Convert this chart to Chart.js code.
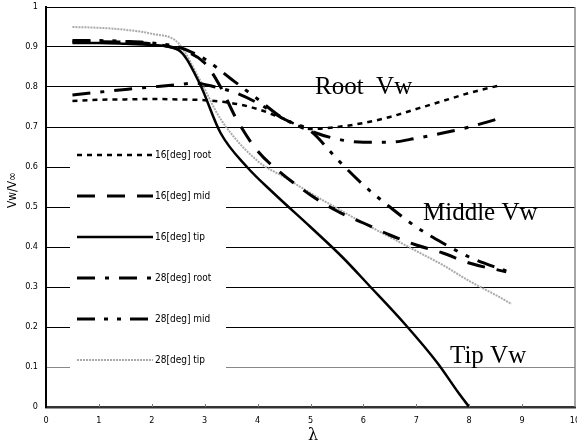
<!DOCTYPE html>
<html>
<head>
<meta charset="utf-8">
<script src="https://cdn.jsdelivr.net/npm/chart.js@4"></script>
<style>
  body { margin: 0; background: #fff; }
  #wrap { width: 577px; height: 443px; }
</style>
</head>
<body>
<div id="wrap"><canvas id="chart"></canvas></div>
<script>
// tip speed ratio (x) and Vw/Vinf (y) for each blade station
const lam16Root = [0.5, 1, 1.5, 2, 2.5, 3, 3.5, 4, 4.5, 5, 5.5, 6, 6.5, 7, 7.5, 8, 8.6];
const vw16Root = [0.765, 0.768, 0.769, 0.77, 0.769, 0.767, 0.76, 0.745, 0.72, 0.695, 0.70, 0.71, 0.725, 0.745, 0.765, 0.785, 0.805];

const lam16Mid = [0.5, 1, 1.5, 2, 2.5, 3, 3.3, 3.6, 4, 4.4, 5, 5.5, 6, 6.5, 7, 7.5, 8, 8.7];
const vw16Mid = [0.913, 0.913, 0.912, 0.908, 0.895, 0.86, 0.80, 0.72, 0.64, 0.59, 0.53, 0.49, 0.46, 0.43, 0.405, 0.385, 0.36, 0.338];

const lam16Tip = [0.5, 1, 1.5, 2, 2.5, 2.9, 3.3, 3.8, 4.3, 5, 5.6, 6.1, 6.8, 7.4, 7.8, 8];
const vw16Tip = [0.91, 0.91, 0.908, 0.905, 0.893, 0.81, 0.685, 0.6, 0.535, 0.45, 0.375, 0.305, 0.205, 0.11, 0.035, 0];

const lam28Root = [0.5, 1, 1.5, 2, 2.5, 2.8, 3.2, 3.6, 4, 4.5, 5, 5.5, 6, 6.5, 7, 7.5, 8, 8.6];
const vw28Root = [0.78, 0.787, 0.794, 0.80, 0.806, 0.81, 0.80, 0.785, 0.76, 0.72, 0.69, 0.67, 0.662, 0.662, 0.672, 0.685, 0.70, 0.7225];

const lam28Mid = [0.5, 1, 1.5, 2, 2.5, 3, 3.5, 4, 4.5, 5, 5.5, 6, 6.5, 7, 7.5, 8, 8.7];
const vw28Mid = [0.916, 0.916, 0.914, 0.91, 0.9, 0.87, 0.82, 0.77, 0.72, 0.69, 0.62, 0.555, 0.5, 0.45, 0.41, 0.375, 0.34];

const lam28Tip = [0.5, 1, 1.5, 2, 2.5, 2.9, 3.3, 4, 4.5, 5, 5.5, 6, 6.5, 7, 7.5, 8, 8.5, 8.8];
const vw28Tip = [0.95, 0.948, 0.943, 0.933, 0.91, 0.82, 0.72, 0.615, 0.575, 0.535, 0.497, 0.46, 0.425, 0.39, 0.355, 0.315, 0.28, 0.2575];

const xTicks = [0, 1, 2, 3, 4, 5, 6, 7, 8, 9, 10];

const pts = (xs, ys) => xs.map((x, i) => ({ x: x, y: ys[i] }));

const tickFont = { family: "'Liberation Sans Narrow', 'DejaVu Sans Condensed', sans-serif", size: 9 };

function series(label, xs, ys, color, width, dash) {
  return {
    label: label,
    data: pts(xs, ys),
    borderColor: color,
    borderWidth: width,
    borderDash: dash,
    pointRadius: 0,
    fill: false,
    cubicInterpolationMode: 'monotone'
  };
}

// legend box, annotations, axis titles
const extras = {
  id: 'extras',
  beforeDatasetsDraw(chart) {
    const ctx = chart.ctx;
    ctx.save();
    ctx.fillStyle = '#fff';
    ctx.fillRect(70, 135, 156, 242);
    ctx.restore();
  },
  afterDraw(chart) {
    const ctx = chart.ctx;
    const area = chart.chartArea;
    const xs = chart.scales.x;
    ctx.save();
    // right border
    ctx.strokeStyle = '#888';
    ctx.lineWidth = 1.5;
    ctx.beginPath();
    ctx.moveTo(area.right, area.top);
    ctx.lineTo(area.right, area.bottom);
    ctx.stroke();
    // small tick marks on x axis
    ctx.strokeStyle = '#777';
    ctx.lineWidth = 1;
    xTicks.slice(1, -1).forEach(v => {
      const px = Math.round(xs.getPixelForValue(v)) + 0.5;
      ctx.beginPath();
      ctx.moveTo(px, area.bottom - 3);
      ctx.lineTo(px, area.bottom);
      ctx.stroke();
    });
    // legend entries
    ctx.font = "10px 'DejaVu Sans Condensed', sans-serif";
    ctx.textBaseline = 'middle';
    chart.data.datasets.forEach((ds, i) => {
      const y = 155 + i * 41;
      ctx.strokeStyle = ds.borderColor;
      ctx.lineWidth = ds.borderWidth;
      ctx.setLineDash(ds.borderDash || []);
      ctx.beginPath();
      ctx.moveTo(77, y);
      ctx.lineTo(153, y);
      ctx.stroke();
      ctx.setLineDash([]);
      ctx.fillStyle = '#000';
      ctx.fillText(ds.label, 155, y);
    });
    // annotations
    ctx.font = "25px 'Liberation Serif', serif";
    ctx.textBaseline = 'alphabetic';
    ctx.fillText('Root  Vw', 315, 94);
    ctx.fillText('Middle Vw', 423, 220);
    ctx.fillText('Tip Vw', 450, 363);
    // axis titles
    ctx.font = "16px 'DejaVu Serif', serif";
    ctx.textAlign = 'center';
    ctx.fillText('\u03bb', 313, 440);
    ctx.translate(13, 190);
    ctx.rotate(-Math.PI / 2);
    ctx.font = "12px 'DejaVu Sans Condensed', sans-serif";
    ctx.textBaseline = 'middle';
    ctx.fillText('Vw/V\u221e', 0, 0);
    ctx.restore();
  }
};

new Chart(document.getElementById('chart'), {
  type: 'line',
  data: {
    datasets: [
      series('16[deg] root', lam16Root, vw16Root, '#000', 2.5, [5, 5]),
      series('16[deg] mid', lam16Mid, vw16Mid, '#000', 3, [18, 12]),
      series('16[deg] tip', lam16Tip, vw16Tip, '#000', 2.5, []),
      series('28[deg] root', lam28Root, vw28Root, '#000', 3, [18, 10, 4, 10]),
      series('28[deg] mid', lam28Mid, vw28Mid, '#000', 3, [18, 9, 4, 9, 4, 9]),
      series('28[deg] tip', lam28Tip, vw28Tip, '#aaa', 2, [2, 1])
    ]
  },
  options: {
    responsive: true,
    maintainAspectRatio: false,
    animation: false,
    layout: { padding: { top: 7, right: 2, left: 0, bottom: 0 } },
    plugins: {
      legend: { display: false },
      tooltip: { enabled: false }
    },
    scales: {
      x: {
        type: 'linear',
        min: 0,
        max: 10,
        afterBuildTicks: (scale) => { scale.ticks = xTicks.map(v => ({ value: v })); },
        afterFit: (scale) => { scale.height = 36; scale.paddingLeft = 0; scale.paddingRight = 0; },
        grid: { display: false, drawTicks: false },
        border: { color: '#333', width: 2.5 },
        ticks: { color: '#000', font: tickFont, padding: 8, maxRotation: 0, callback: (v) => String(v) }
      },
      y: {
        min: 0,
        max: 1,
        afterFit: (scale) => { scale.width = 46; scale.paddingTop = 0; scale.paddingBottom = 0; },
        grid: {
          drawTicks: false,
          color: (c) => {
            const v = c.tick.value;
            if (Math.abs(v) < 1e-6) return 'rgba(0,0,0,0)';
            if (Math.abs(v - 0.1) < 1e-6) return '#888';
            return '#000';
          }
        },
        border: { color: '#000', width: 2 },
        ticks: {
          stepSize: 0.1, color: '#000', font: tickFont, padding: 8,
          callback: (v) => (Math.abs(v) < 1e-6 ? '0' : Math.abs(v - 1) < 1e-6 ? '1' : v.toFixed(1))
        }
      }
    }
  },
  plugins: [extras]
});
</script>
</body>
</html>
